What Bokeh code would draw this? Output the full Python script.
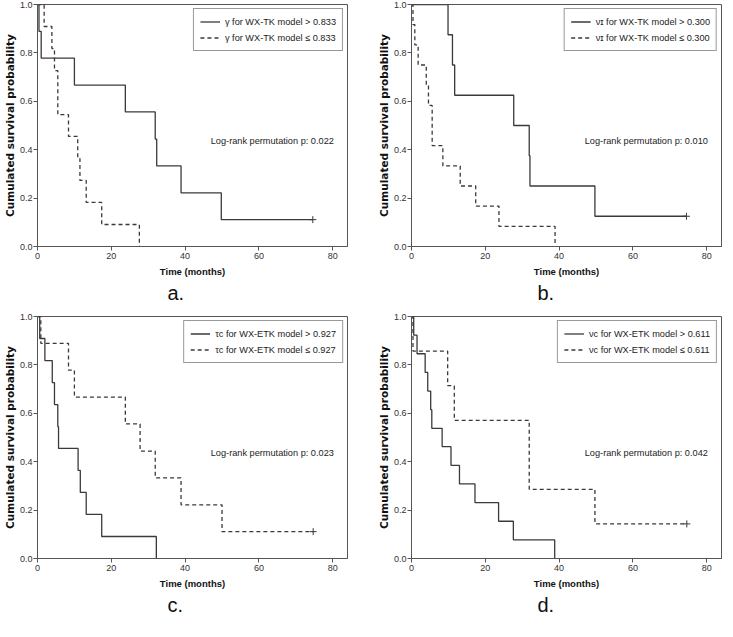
from bokeh.plotting import figure
from bokeh.models import Range1d, Label, Title, Legend, LegendItem, FixedTicker
from bokeh.layouts import column, row
from bokeh.embed import file_html
from bokeh.resources import INLINE

# ---------------- data ----------------
x_ticks = [0, 20, 40, 60, 80]
y_ticks = [0.0, 0.2, 0.4, 0.6, 0.8, 1.0]

# panel a: gamma for WX-TK model
a_hi_time = [0, 0.4, 1.0, 10.0, 23.8, 31.9, 32.3, 38.9, 49.8, 74.6]
a_hi_surv = [1.0, 0.889, 0.778, 0.667, 0.556, 0.444, 0.333, 0.222, 0.111, 0.111]
a_hi_cens = [74.6]
a_lo_time = [0, 1.8, 3.9, 4.6, 5.5, 8.4, 10.9, 11.5, 13.2, 17.4, 27.6]
a_lo_surv = [1.0, 0.909, 0.818, 0.727, 0.545, 0.455, 0.364, 0.273, 0.182, 0.091, 0.0]
a_lo_cens = []

# panel b: nu_I for WX-TK model
b_hi_time = [0, 9.9, 11.1, 11.7, 27.7, 31.9, 32.1, 49.7, 74.5]
b_hi_surv = [1.0, 0.875, 0.75, 0.625, 0.5, 0.375, 0.25, 0.125, 0.125]
b_hi_cens = [74.5]
b_lo_time = [0, 0.4, 0.9, 1.8, 4.0, 4.6, 5.6, 8.5, 13.2, 17.4, 23.7, 38.9]
b_lo_surv = [1.0, 0.917, 0.833, 0.75, 0.667, 0.583, 0.417, 0.333, 0.25, 0.167, 0.083, 0.0]
b_lo_cens = []

# panel c: tau_C for WX-ETK model
c_hi_time = [0, 0.6, 2.0, 4.0, 4.6, 5.5, 5.7, 11.0, 11.6, 13.2, 17.4, 32.2]
c_hi_surv = [1.0, 0.909, 0.818, 0.727, 0.636, 0.545, 0.455, 0.364, 0.273, 0.182, 0.091, 0.0]
c_hi_cens = []
c_lo_time = [0, 0.9, 8.4, 10.0, 23.8, 27.8, 31.9, 38.9, 50.0, 74.7]
c_lo_surv = [1.0, 0.889, 0.778, 0.667, 0.556, 0.444, 0.333, 0.222, 0.111, 0.111]
c_lo_cens = [74.7]

# panel d: nu_C for WX-ETK model
d_hi_time = [0, 0.6, 1.5, 3.7, 4.4, 5.2, 5.5, 8.3, 10.7, 13.0, 17.2, 23.6, 27.6, 38.8]
d_hi_surv = [1.0, 0.923, 0.846, 0.769, 0.692, 0.615, 0.538, 0.462, 0.385, 0.308, 0.231, 0.154, 0.077, 0.0]
d_hi_cens = []
d_lo_time = [0, 0.4, 9.8, 11.6, 31.9, 49.7, 74.6]
d_lo_surv = [1.0, 0.857, 0.714, 0.571, 0.286, 0.143, 0.143]
d_lo_cens = [74.6]

labels_a = ["γ for WX-TK model > 0.833", "γ for WX-TK model ≤ 0.833"]
labels_b = ["νɪ for WX-TK model > 0.300", "νɪ for WX-TK model ≤ 0.300"]
labels_c = ["τᴄ for WX-ETK model > 0.927", "τᴄ for WX-ETK model ≤ 0.927"]
labels_d = ["νᴄ for WX-ETK model > 0.611", "νᴄ for WX-ETK model ≤ 0.611"]
pvals = ["Log-rank permutation p: 0.022", "Log-rank permutation p: 0.010",
         "Log-rank permutation p: 0.023", "Log-rank permutation p: 0.042"]
letters = ["a.", "b.", "c.", "d."]

FONT = "Liberation Sans"
YFONT = "DejaVu Sans"
LINE = "#3a3a3a"
FRAME = "#555555"
FRAME_W = 310
FRAME_H = 242


def survival_at(times, survs, t):
    for tt, ss in zip(times, survs):
        if tt == t:
            return ss
    return survs[-1]


def make_panel(hi_t, hi_s, hi_c, lo_t, lo_s, lo_c, labels, ptext, letter,
               left_border, right_border, bottom_border, letter_offset):
    p = figure(frame_width=FRAME_W, frame_height=FRAME_H,
               x_range=Range1d(0, 84), y_range=Range1d(0, 1),
               output_backend="svg", toolbar_location=None,
               min_border_left=left_border, min_border_right=right_border,
               min_border_top=4, min_border_bottom=bottom_border)
    p.xgrid.visible = False
    p.ygrid.visible = False
    p.outline_line_color = FRAME
    p.outline_line_width = 1
    p.background_fill_color = "white"
    p.border_fill_color = "white"

    r_hi = p.step(hi_t, hi_s, mode="after", line_color=LINE, line_width=1.3)
    r_lo = p.step(lo_t, lo_s, mode="after", line_color=LINE, line_width=1.3,
                  line_dash="4 3")
    if hi_c:
        p.scatter(hi_c, [survival_at(hi_t, hi_s, c) for c in hi_c],
                  marker="cross", size=7, line_color=LINE, line_width=1)
    if lo_c:
        p.scatter(lo_c, [survival_at(lo_t, lo_s, c) for c in lo_c],
                  marker="cross", size=7, line_color=LINE, line_width=1)

    legend = Legend(items=[LegendItem(label=labels[0], renderers=[r_hi]),
                           LegendItem(label=labels[1], renderers=[r_lo])],
                    location="top_right", margin=4, padding=6, spacing=3,
                    glyph_width=20, glyph_height=13, label_height=13,
                    label_standoff=5,
                    label_text_font=FONT, label_text_font_size="9.2px",
                    label_text_color="#222222",
                    border_line_color="#333333", border_line_width=1,
                    background_fill_alpha=1.0)
    p.add_layout(legend)

    p.add_layout(Label(x=80.3, y=0.437, text=ptext, text_align="right",
                       text_baseline="middle", text_font=FONT,
                       text_font_size="9.2px", text_color="#222222"))

    for ax in (p.xaxis[0], p.yaxis[0]):
        ax.axis_line_color = FRAME
        ax.major_tick_line_color = FRAME
        ax.major_tick_out = 4
        ax.major_tick_in = 0
        ax.minor_tick_line_color = None
        ax.major_label_text_font = FONT
        ax.major_label_text_font_size = "9px"
        ax.major_label_text_color = "#333333"
        ax.axis_label_text_font = FONT
        ax.axis_label_text_font_size = "9.5px"
        ax.axis_label_text_font_style = "bold"
        ax.axis_label_text_color = "#111111"
    p.xaxis[0].ticker = FixedTicker(ticks=x_ticks)
    p.yaxis[0].ticker = FixedTicker(ticks=y_ticks)
    p.yaxis[0].major_label_overrides = {t: f"{t:.1f}" for t in y_ticks}
    p.xaxis[0].axis_label = "Time (months)"
    p.yaxis[0].axis_label = "Cumulated survival probability"
    p.xaxis[0].major_label_standoff = 2
    p.yaxis[0].major_label_standoff = 1
    p.xaxis[0].axis_label_standoff = 4
    p.yaxis[0].axis_label_standoff = 1
    p.yaxis[0].axis_label_text_font = YFONT
    p.yaxis[0].axis_label_text_font_size = "10.5px"

    p.add_layout(Title(text=letter, align="left", offset=letter_offset,
                       text_font=FONT, text_font_size="20px",
                       text_font_style="normal", text_color="#111111",
                       standoff=0), "below")
    return p


pa = make_panel(a_hi_time, a_hi_surv, a_hi_cens, a_lo_time, a_lo_surv, a_lo_cens,
                labels_a, pvals[0], letters[0], 30, 18, 66, 130)
pb = make_panel(b_hi_time, b_hi_surv, b_hi_cens, b_lo_time, b_lo_surv, b_lo_cens,
                labels_b, pvals[1], letters[1], 46, 1, 66, 126)
pc = make_panel(c_hi_time, c_hi_surv, c_hi_cens, c_lo_time, c_lo_surv, c_lo_cens,
                labels_c, pvals[2], letters[2], 30, 18, 58, 130)
pd = make_panel(d_hi_time, d_hi_surv, d_hi_cens, d_lo_time, d_lo_surv, d_lo_cens,
                labels_d, pvals[3], letters[3], 46, 1, 58, 126)

layout = column(row(pa, pb), row(pc, pd))

open("out.html", "w").write(file_html(layout, INLINE))
